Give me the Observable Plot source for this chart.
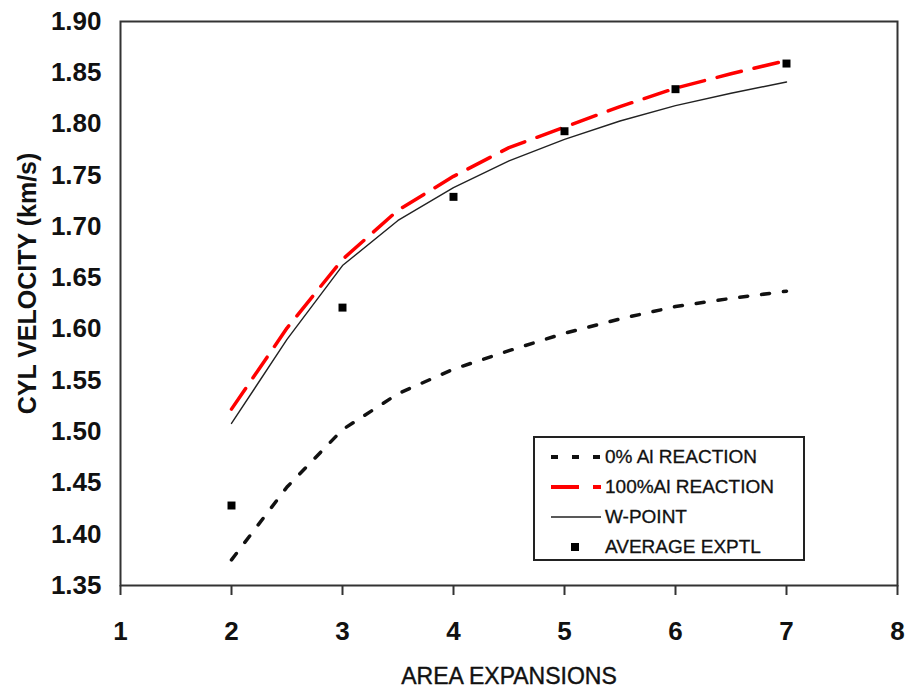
<!DOCTYPE html>
<html>
<head>
<meta charset="utf-8">
<script src="https://cdn.jsdelivr.net/npm/d3@7"></script>
<script src="https://cdn.jsdelivr.net/npm/@observablehq/plot@0.6"></script>
<style>
  html, body { margin: 0; padding: 0; background: #fff; }
  #wrap { position: relative; width: 905px; height: 695px; font-family: "Liberation Sans", Arial, sans-serif; }
  #legend { position: absolute; left: 533px; top: 436px; width: 268px; height: 121px;
    border: 2px solid #222; background: #fff; color: #111; font-size: 19px; }
  #legend .row { position: absolute; left: 14px; height: 30px; display: flex; align-items: center; white-space: nowrap; }
  #legend span { -webkit-text-stroke: 0.3px #111; }
  #legend svg { display: block; margin-right: 4px; }
</style>
</head>
<body>
<div id="wrap"></div>
<script>
// ---- data ----
const areaExpansions = [2, 2.5, 3, 3.5, 4, 4.5, 5, 5.5, 6, 6.5, 7];
const zeroAlReaction = [1.375, 1.446, 1.502, 1.537, 1.561, 1.579, 1.596, 1.610, 1.622, 1.630, 1.637];
const fullAlReaction = [1.522, 1.601, 1.668, 1.716, 1.749, 1.777, 1.797, 1.817, 1.835, 1.849, 1.862];
const wPoint         = [1.508, 1.590, 1.662, 1.706, 1.738, 1.764, 1.785, 1.803, 1.818, 1.830, 1.841];
const exptlX = [2, 3, 4, 5, 6, 7];
const exptlY = [1.428, 1.621, 1.729, 1.793, 1.834, 1.859];
const xTicks = [1, 2, 3, 4, 5, 6, 7, 8];
const yTicks = [1.35, 1.40, 1.45, 1.50, 1.55, 1.60, 1.65, 1.70, 1.75, 1.80, 1.85, 1.90];
const seriesNames = ["0% Al REACTION", "100%Al REACTION", "W-POINT", "AVERAGE EXPTL"];
const xTitle = "AREA EXPANSIONS";
const yTitle = "CYL VELOCITY (km/s)";

const mk = (ys) => areaExpansions.map((x, i) => ({x, y: ys[i]}));
const zeroData = mk(zeroAlReaction);
const fullData = mk(fullAlReaction);
const wData = mk(wPoint);
const exptlData = exptlX.map((x, i) => ({x, y: exptlY[i]}));

const font = "'Liberation Sans', Arial, sans-serif";

const chart = Plot.plot({
  width: 905,
  height: 695,
  marginLeft: 120,
  marginRight: 8,
  marginTop: 21,
  marginBottom: 110,
  style: {fontFamily: font, background: "#fff", color: "#111"},
  x: {domain: [1, 8]},
  y: {domain: [1.35, 1.90]},
  marks: [
    Plot.frame({stroke: "#333", strokeWidth: 2}),
    Plot.line(zeroData, {x: "x", y: "y", stroke: "#111", strokeWidth: 3.5, strokeDasharray: "8,14", curve: "linear"}),
    Plot.line(wData, {x: "x", y: "y", stroke: "#222", strokeWidth: 1.4, curve: "linear"}),
    Plot.line(fullData, {x: "x", y: "y", stroke: "#ff0000", strokeWidth: 3.5, strokeDasharray: "25,13", curve: "linear"}),
    Plot.dot(exptlData, {x: "x", y: "y", symbol: "square", r: 4.5, fill: "#000", stroke: null}),
    Plot.axisX({ticks: xTicks, tickSize: 10, tickPadding: 26, tickFormat: d3.format("d"),
      fontSize: 26, fontWeight: "bold", stroke: "#333", strokeWidth: 2, label: null}),
    Plot.axisY({ticks: yTicks, tickSize: 0, tickPadding: 19, tickFormat: d3.format(".2f"),
      fontSize: 26, fontWeight: "bold", label: null}),
    Plot.text([xTitle], {frameAnchor: "bottom", text: d => d, dy: 98, fontSize: 23, fill: "#111",
      stroke: "#111", strokeWidth: 0.4}),
    Plot.text([yTitle], {frameAnchor: "left", textAnchor: "middle", text: d => d, rotate: -90, dx: -93, dy: -20,
      fontSize: 25, fontWeight: "bold", fill: "#111"})
  ]
});

const wrap = document.getElementById("wrap");
wrap.appendChild(chart);

// ---- legend ----
const legend = document.createElement("div");
legend.id = "legend";
const samples = [
  `<svg width="52" height="14"><line x1="2" y1="7" x2="52" y2="7" stroke="#111" stroke-width="4" stroke-dasharray="7,14"/></svg>`,
  `<svg width="52" height="14"><line x1="2" y1="7" x2="52" y2="7" stroke="#ff0000" stroke-width="4" stroke-dasharray="28,14"/></svg>`,
  `<svg width="52" height="14"><line x1="2" y1="7" x2="52" y2="7" stroke="#222" stroke-width="1.4"/></svg>`,
  `<svg width="52" height="14"><rect x="22" y="3" width="8" height="8" fill="#000"/></svg>`
];
seriesNames.forEach((name, i) => {
  const row = document.createElement("div");
  row.className = "row";
  row.style.top = (4 + i * 30) + "px";
  row.innerHTML = samples[i] + `<span>${name}</span>`;
  legend.appendChild(row);
});
wrap.appendChild(legend);
</script>
</body>
</html>
